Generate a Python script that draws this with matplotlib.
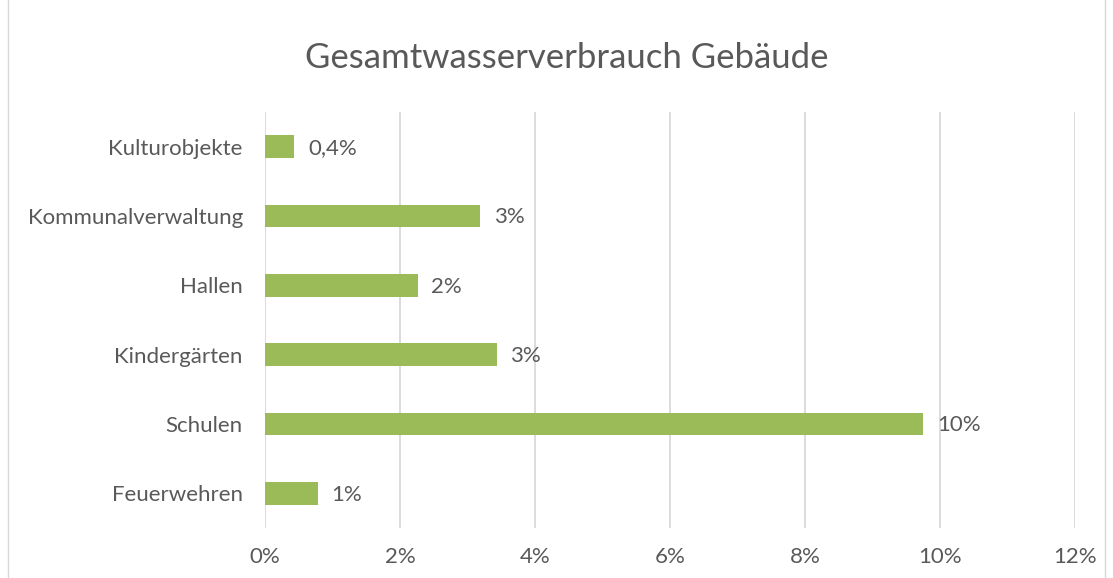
import matplotlib.pyplot as plt
from matplotlib.patches import Rectangle

# ---------------------- DATA ----------------------
categories = ["Feuerwehren", "Schulen", "Kindergärten", "Hallen",
              "Kommunalverwaltung", "Kulturobjekte"]
values = [0.78, 9.75, 3.43, 2.26, 3.18, 0.43]  # percent
value_labels = ["1%", "10%", "3%", "2%", "3%", "0,4%"]
x_ticks = [0, 2, 4, 6, 8, 10, 12]
title = "Gesamtwasserverbrauch Gebäude"

# ---------------------- STYLE ----------------------
plt.rcParams['font.family'] = ['Lato', 'DejaVu Sans']
text_color = "#595959"
bar_color = "#9bbb59"
grid_color = "#d9d9d9"
fs = 16

fig = plt.figure(figsize=(11.13, 5.78), dpi=100)
ax = fig.add_axes([0.2381, 0.0865, 0.7278, 0.7197])

# chart border like Excel
fig.patches.append(Rectangle((0.007, -0.01), 0.986, 1.02, transform=fig.transFigure,
                             fill=False, edgecolor=grid_color, linewidth=1))

ypos = range(len(categories))
ax.barh(ypos, values, height=0.33, color=bar_color, zorder=3)

for y, v, lab in zip(ypos, values, value_labels):
    ax.annotate(lab, (v, y), xytext=(10, -1), textcoords="offset points",
                va="center", ha="left", fontsize=fs, color=text_color)

ax.set_xlim(0, 12)
ax.set_ylim(-0.5, len(categories) - 0.5)
ax.set_xticks(x_ticks)
ax.set_xticklabels([f"{t}%" for t in x_ticks])
ax.set_yticks(list(ypos))
ax.set_yticklabels(categories)
ax.tick_params(axis="both", length=0, labelsize=fs, colors=text_color)
ax.tick_params(axis="x", pad=14)
ax.tick_params(axis="y", pad=16)

ax.grid(axis="x", color=grid_color, linewidth=1.3, zorder=0)
for s in ax.spines.values():
    s.set_visible(False)

fig.text(0.5095, 0.90, title, ha="center", va="center", fontsize=25, color=text_color)

plt.savefig("out.png", dpi=100)
plt.close()
